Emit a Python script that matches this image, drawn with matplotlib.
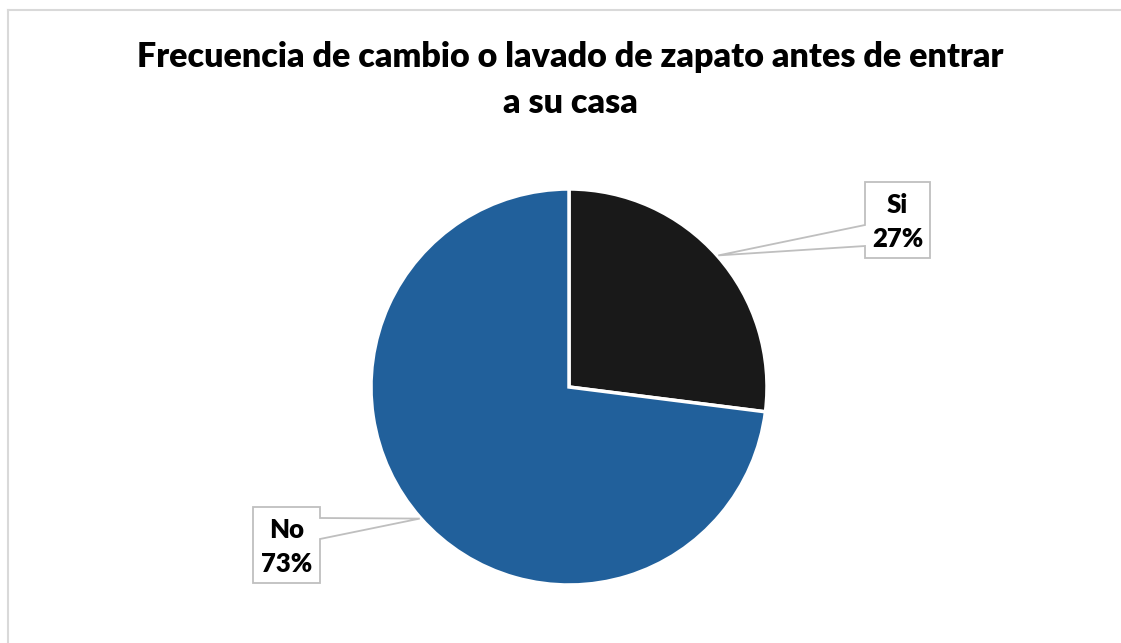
import numpy as np
import matplotlib.pyplot as plt
from matplotlib.patches import Polygon
from matplotlib.lines import Line2D

# data
categories = ['Si', 'No']
values = [27, 73]
colors = ['#191919', '#21609b']

W, H = 1121, 643
fig = plt.figure(figsize=(W / 100, H / 100), dpi=100)
fig.patch.set_facecolor('white')

# light grey frame (top and left edges only visible)
fig.add_artist(Line2D([8 / W, 8 / W], [0, 1 - 10 / H], color='#d9d9d9', lw=1.5))
fig.add_artist(Line2D([8 / W, 1], [1 - 10 / H, 1 - 10 / H], color='#d9d9d9', lw=1.5))

# pie axes: centre (569, 387) px, radius 198 px
cx, cy, r = 569, 387, 198
ax = fig.add_axes([(cx - r) / W, (H - cy - r) / H, 2 * r / W, 2 * r / H])
wedges, _ = ax.pie(values, colors=colors, startangle=90, counterclock=False,
                   radius=1, wedgeprops=dict(edgecolor='white', linewidth=2.5))
ax.set_xlim(-1, 1)
ax.set_ylim(-1, 1)
ax.set_aspect('equal')
ax.axis('off')


def px(x, y):
    # pixel -> data coords
    return ((x - cx) / r, (cy - y) / r)


# label boxes (pixel extents) and side of the pointer
boxes = {
    'Si': dict(l=865, r=930, t=182, b=258, side='left', p0=225, p1=246),
    'No': dict(l=253, r=320, t=507, b=583, side='right', p0=518, p1=539),
}

for w, cat, v in zip(wedges, categories, values):
    mid = np.deg2rad((w.theta1 + w.theta2) / 2)
    tip = (np.cos(mid) * 1.005, np.sin(mid) * 1.005)
    b = boxes[cat]
    if b['side'] == 'left':
        pts = [(b['l'], b['t']), (b['r'], b['t']), (b['r'], b['b']), (b['l'], b['b']),
               (b['l'], b['p1']), None, (b['l'], b['p0'])]
    else:
        pts = [(b['l'], b['t']), (b['r'], b['t']), (b['r'], b['p0']), None,
               (b['r'], b['p1']), (b['r'], b['b']), (b['l'], b['b'])]
    verts = [tip if p is None else px(*p) for p in pts]
    ax.add_patch(Polygon(verts, closed=True, facecolor='white', edgecolor='#bfbfbf',
                         lw=1.3, clip_on=False, zorder=5))
    tx, ty = px((b['l'] + b['r']) / 2, (b['t'] + b['b']) / 2 + 2)
    ax.text(tx, ty, f'{cat}\n{v}%', ha='center', va='center', fontsize=18.5,
            fontweight='heavy', family='Lato', linespacing=1.5, zorder=6,
            clip_on=False)

fig.text(570 / W, 1 - 57 / H, 'Frecuencia de cambio o lavado de zapato antes de entrar',
         ha='center', va='center', fontsize=24.5, fontweight='heavy', family='Lato')
fig.text(570 / W, 1 - 103 / H, 'a su casa', ha='center', va='center', fontsize=24.5,
         fontweight='heavy', family='Lato')

fig.savefig('out.png', dpi=100, facecolor='white')
